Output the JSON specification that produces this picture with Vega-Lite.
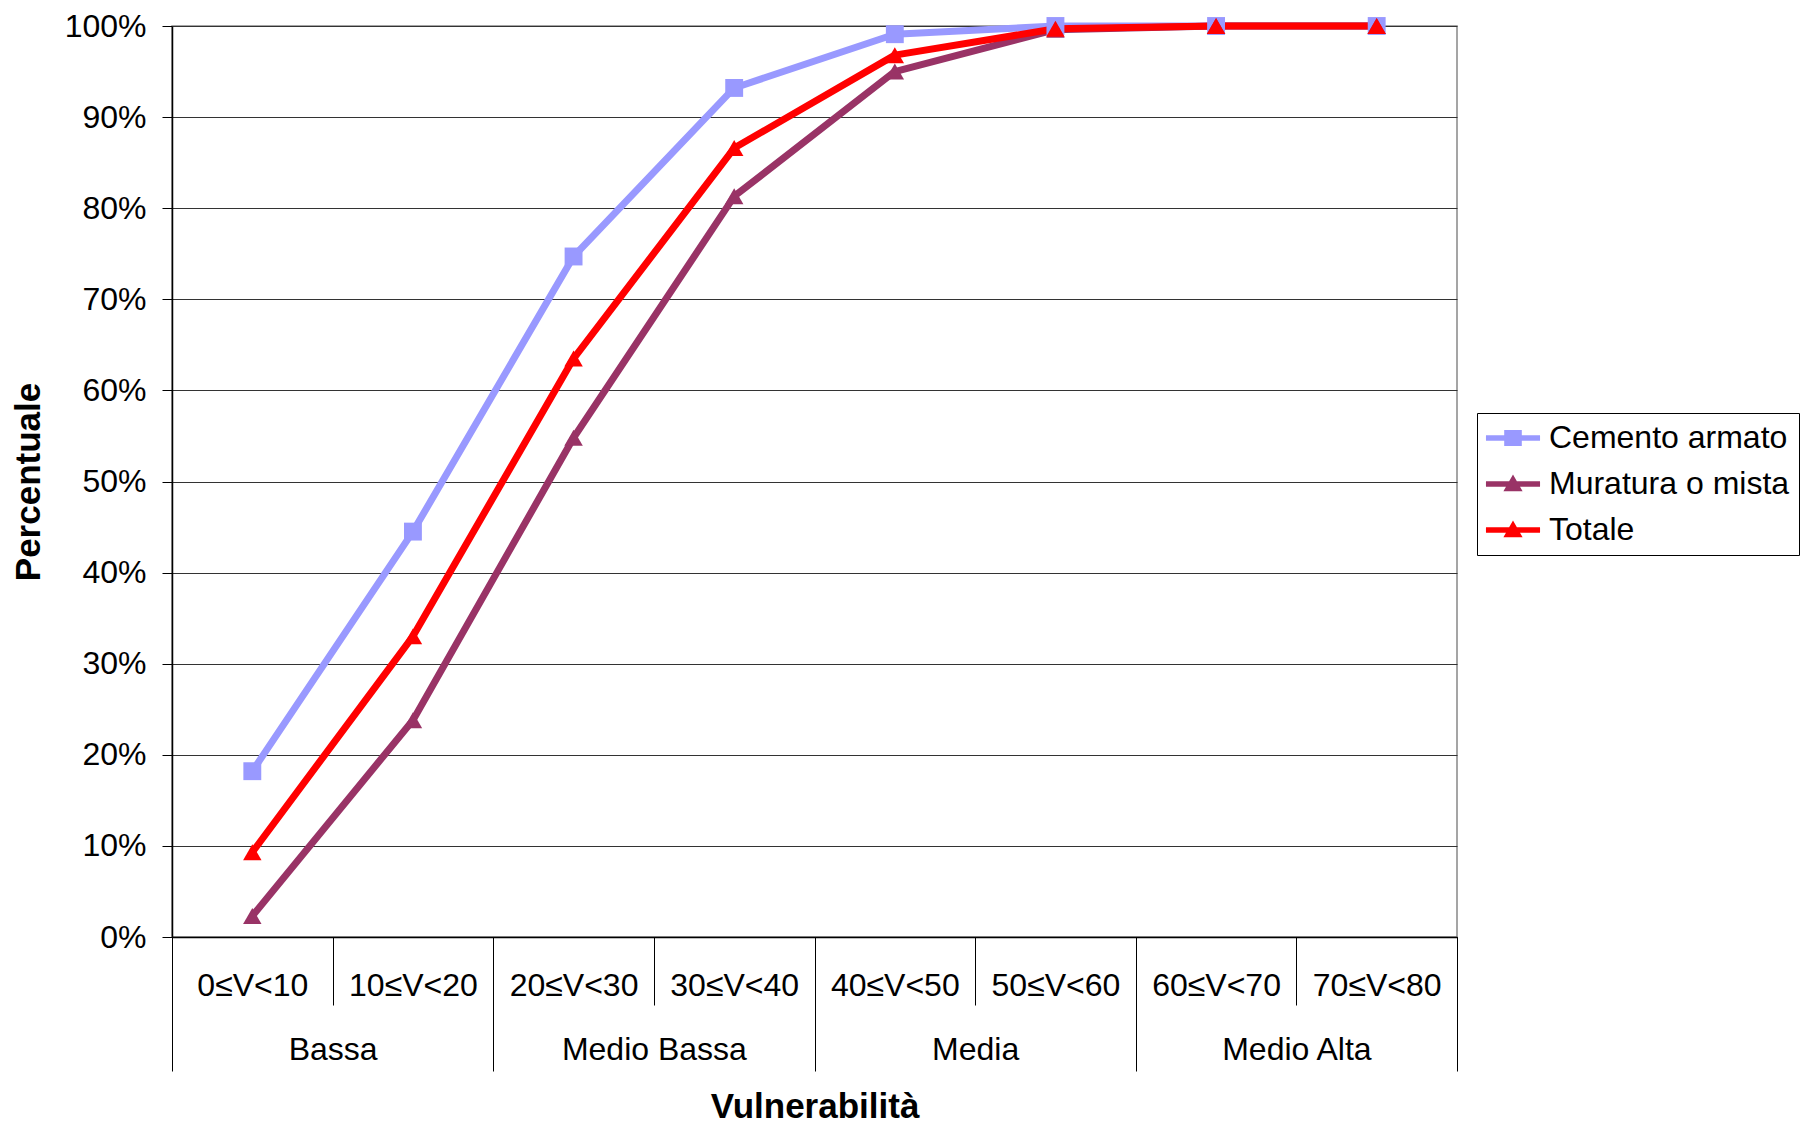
{
  "$schema": "https://vega.github.io/schema/vega-lite/v6.json",
  "width": 1285,
  "height": 911,
  "autosize": {"type": "none"},
  "padding": {"left": 172, "top": 26, "right": 345, "bottom": 187},
  "background": "white",
  "config": {
    "font": "Liberation Sans",
    "view": {"stroke": "#888888", "strokeWidth": 1.5}
  },
  "data": {
    "values": [
      {"i": 0, "range": "0≤V<10", "group": "Bassa", "series": "Cemento armato", "value": 0.182},
      {"i": 1, "range": "10≤V<20", "group": "Bassa", "series": "Cemento armato", "value": 0.445},
      {"i": 2, "range": "20≤V<30", "group": "Medio Bassa", "series": "Cemento armato", "value": 0.747},
      {"i": 3, "range": "30≤V<40", "group": "Medio Bassa", "series": "Cemento armato", "value": 0.932},
      {"i": 4, "range": "40≤V<50", "group": "Media", "series": "Cemento armato", "value": 0.991},
      {"i": 5, "range": "50≤V<60", "group": "Media", "series": "Cemento armato", "value": 1.0},
      {"i": 6, "range": "60≤V<70", "group": "Medio Alta", "series": "Cemento armato", "value": 1.0},
      {"i": 7, "range": "70≤V<80", "group": "Medio Alta", "series": "Cemento armato", "value": 1.0},
      {"i": 0, "range": "0≤V<10", "group": "Bassa", "series": "Muratura o mista", "value": 0.023},
      {"i": 1, "range": "10≤V<20", "group": "Bassa", "series": "Muratura o mista", "value": 0.238},
      {"i": 2, "range": "20≤V<30", "group": "Medio Bassa", "series": "Muratura o mista", "value": 0.548},
      {"i": 3, "range": "30≤V<40", "group": "Medio Bassa", "series": "Muratura o mista", "value": 0.813},
      {"i": 4, "range": "40≤V<50", "group": "Media", "series": "Muratura o mista", "value": 0.95},
      {"i": 5, "range": "50≤V<60", "group": "Media", "series": "Muratura o mista", "value": 0.996},
      {"i": 6, "range": "60≤V<70", "group": "Medio Alta", "series": "Muratura o mista", "value": 1.0},
      {"i": 7, "range": "70≤V<80", "group": "Medio Alta", "series": "Muratura o mista", "value": 1.0},
      {"i": 0, "range": "0≤V<10", "group": "Bassa", "series": "Totale", "value": 0.093},
      {"i": 1, "range": "10≤V<20", "group": "Bassa", "series": "Totale", "value": 0.33},
      {"i": 2, "range": "20≤V<30", "group": "Medio Bassa", "series": "Totale", "value": 0.635},
      {"i": 3, "range": "30≤V<40", "group": "Medio Bassa", "series": "Totale", "value": 0.866},
      {"i": 4, "range": "40≤V<50", "group": "Media", "series": "Totale", "value": 0.968},
      {"i": 5, "range": "50≤V<60", "group": "Media", "series": "Totale", "value": 0.997},
      {"i": 6, "range": "60≤V<70", "group": "Medio Alta", "series": "Totale", "value": 1.0},
      {"i": 7, "range": "70≤V<80", "group": "Medio Alta", "series": "Totale", "value": 1.0}
    ]
  },
  "layer": [
    {
      "encoding": {
        "x": {
          "field": "range",
          "type": "nominal",
          "sort": ["0≤V<10", "10≤V<20", "20≤V<30", "30≤V<40", "40≤V<50", "50≤V<60", "60≤V<70", "70≤V<80"],
          "scale": {"type": "band", "paddingInner": 0, "paddingOuter": 0},
          "axis": {
            "orient": "bottom",
            "title": null,
            "grid": false,
            "domain": true,
            "domainColor": "#000000",
            "domainWidth": 1.5,
            "ticks": true,
            "tickColor": "#000000",
            "tickWidth": 1,
            "tickSize": 68,
            "tickBand": "extent",
            "labelAngle": 0,
            "labelFont": "Liberation Sans",
            "labelFontSize": 32,
            "labelColor": "#000000",
            "labelBaseline": "middle",
            "labelPadding": -20,
            "labelOverlap": false,
            "labelLimit": 0
          }
        },
        "y": {
          "field": "value",
          "type": "quantitative",
          "scale": {"domain": [0, 1], "nice": false},
          "axis": {
            "values": [0, 0.1, 0.2, 0.3, 0.4, 0.5, 0.6, 0.7, 0.8, 0.9, 1],
            "format": ".0%",
            "title": "Percentuale",
            "titleFont": "Liberation Sans",
            "titleFontSize": 35,
            "titleFontWeight": "bold",
            "titleColor": "#000000",
            "titlePadding": 18,
            "grid": true,
            "gridColor": "#333333",
            "gridWidth": 1,
            "domainColor": "#000000",
            "domainWidth": 1.5,
            "tickColor": "#000000",
            "tickSize": 10,
            "labelFont": "Liberation Sans",
            "labelFontSize": 32,
            "labelColor": "#000000",
            "labelPadding": 16
          }
        },
        "order": {"field": "i", "type": "quantitative"}
      },
      "layer": [
        {
          "mark": {"type": "line", "strokeWidth": 7, "strokeJoin": "round"},
          "encoding": {
            "color": {
              "field": "series",
              "type": "nominal",
              "scale": {
                "domain": ["Cemento armato", "Muratura o mista", "Totale"],
                "range": ["#9999FF", "#993366", "#FF0000"]
              },
              "legend": {
                "orient": "none",
                "legendX": 1305,
                "legendY": 387,
                "title": null,
                "labelFont": "Liberation Sans",
                "labelFontSize": 32,
                "labelColor": "#000000",
                "labelLimit": 1000,
                "symbolSize": 1024,
                "symbolOffset": 11,
                "labelOffset": 20,
                "rowPadding": 14,
                "padding": 9,
                "strokeColor": "#000000",
                "fillColor": "#ffffff",
                "encode": {
                  "symbols": {
                    "enter": {
                      "shape": {"signal": "datum.value === 'Cemento armato' ? 'M-1.69,-0.17H1.69V0.17H-1.69Z M-0.55,-0.5H0.55V0.5H-0.55Z' : 'M-1.69,-0.17H1.69V0.17H-1.69Z M-0.6,0.45L0,-0.6L0.6,0.45Z'"}
                    },
                    "update": {
                      "shape": {"signal": "datum.value === 'Cemento armato' ? 'M-1.69,-0.17H1.69V0.17H-1.69Z M-0.55,-0.5H0.55V0.5H-0.55Z' : 'M-1.69,-0.17H1.69V0.17H-1.69Z M-0.6,0.45L0,-0.6L0.6,0.45Z'"},
                      "fill": {"scale": "color", "field": "value"},
                      "stroke": {"value": "transparent"},
                      "strokeWidth": {"value": 0},
                      "opacity": {"value": 1}
                    }
                  }
                }
              }
            }
          }
        },
        {
          "transform": [{"filter": "datum.series === 'Cemento armato'"}],
          "mark": {"type": "point", "filled": true, "opacity": 1, "size": 320, "shape": "square"},
          "encoding": {
            "color": {"field": "series", "type": "nominal"}
          }
        },
        {
          "transform": [{"filter": "datum.series !== 'Cemento armato'"}],
          "mark": {"type": "point", "filled": true, "opacity": 1, "size": 340, "shape": "triangle-up"},
          "encoding": {
            "color": {"field": "series", "type": "nominal"}
          }
        }
      ]
    },
    {
      "mark": {"type": "point", "opacity": 0, "size": 1},
      "encoding": {
        "x": {
          "field": "group",
          "type": "nominal",
          "sort": ["Bassa", "Medio Bassa", "Media", "Medio Alta"],
          "scale": {"type": "band", "paddingInner": 0, "paddingOuter": 0},
          "axis": {
            "orient": "bottom",
            "title": "Vulnerabilità",
            "titleFont": "Liberation Sans",
            "titleFontSize": 35,
            "titleFontWeight": "bold",
            "titleColor": "#000000",
            "titlePadding": 18,
            "grid": false,
            "domain": false,
            "ticks": true,
            "tickColor": "#000000",
            "tickWidth": 1,
            "tickSize": 134,
            "tickBand": "extent",
            "labelAngle": 0,
            "labelFont": "Liberation Sans",
            "labelFontSize": 32,
            "labelColor": "#000000",
            "labelBaseline": "middle",
            "labelPadding": -22,
            "labelOverlap": false,
            "labelLimit": 0
          }
        }
      }
    }
  ],
  "resolve": {"scale": {"x": "independent"}}
}
